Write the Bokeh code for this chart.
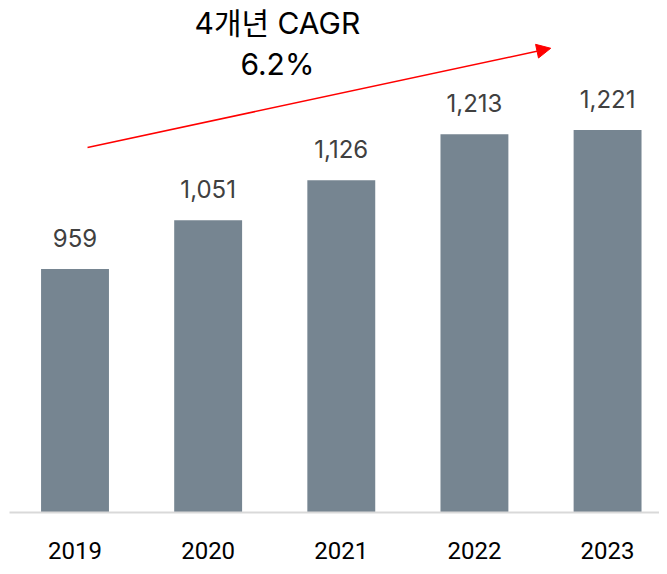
from bokeh.plotting import figure
from bokeh.models import Range1d, ColumnDataSource, FixedTicker, Arrow, NormalHead, Label
from bokeh.core.properties import value
from bokeh.embed import file_html
from bokeh.resources import INLINE

years = ["2019", "2020", "2021", "2022", "2023"]
values = [959, 1051, 1126, 1213, 1221]
value_labels = ["959", "1,051", "1,126", "1,213", "1,221"]
cagr_title = "4개년 CAGR"
cagr_value = "6.2%"

xs = list(range(len(years)))
src = ColumnDataSource(dict(x=xs, top=values, lab=value_labels))

p = figure(width=659, height=566, output_backend="svg", toolbar_location=None,
           x_range=Range1d(-0.492, 4.39), y_range=Range1d(500, 1465),
           min_border_left=9, min_border_right=0, min_border_top=0, min_border_bottom=54)
p.outline_line_color = None
p.grid.grid_line_color = None
p.yaxis.visible = False

p.vbar(x="x", top="top", bottom=500, width=0.51, source=src,
       fill_color="#768591", line_color=None)
p.text(x="x", y="top", text="lab", source=src, text_align="center",
       text_baseline="alphabetic", y_offset=-31, text_color="#404040",
       text_font=value("Inter"), text_font_size="24px")

xa = p.xaxis[0]
xa.ticker = FixedTicker(ticks=xs)
xa.major_label_overrides = {i: y for i, y in zip(xs, years)}
xa.axis_line_color = "#d9d9d9"
xa.axis_line_width = 2
xa.major_tick_line_color = None
xa.minor_tick_line_color = None
xa.major_label_standoff = 23
xa.major_label_text_font = "Roboto"
xa.major_label_text_font_size = "24px"
xa.major_label_text_color = "#000000"

p.add_layout(Arrow(end=NormalHead(size=14, fill_color="#ff0000", line_color="#ff0000"),
                   x_start=0.094, y_start=1188, x_end=3.573, y_end=1375,
                   line_color="#ff0000", line_width=1.5))

p.add_layout(Label(x=1.52, y=1422, text=cagr_title, text_align="center",
                   text_baseline="alphabetic", text_font="Inter, 'Noto Sans CJK KR'",
                   text_font_size="30px", text_color="#000000"))
p.add_layout(Label(x=1.52, y=1346, text=cagr_value, text_align="center",
                   text_baseline="alphabetic", text_font="Inter",
                   text_font_size="30px", text_color="#000000"))

open("out.html", "w").write(file_html(p, INLINE))
